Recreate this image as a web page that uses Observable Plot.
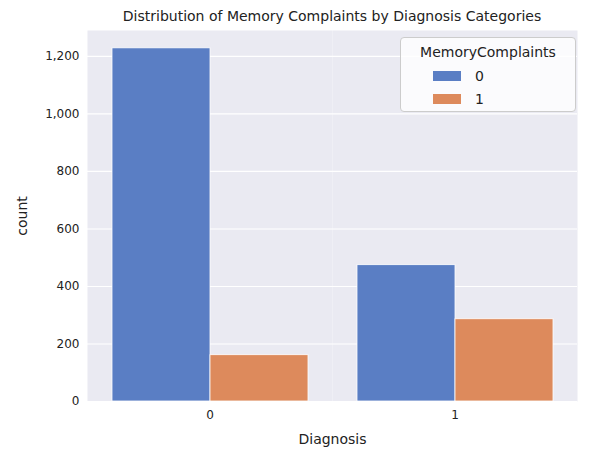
<!DOCTYPE html>
<html><head>
<script src="https://cdn.jsdelivr.net/npm/d3@7"></script>
<script src="https://cdn.jsdelivr.net/npm/@observablehq/plot@0.6"></script>
<style>
body{margin:0;font-family:"DejaVu Sans",sans-serif;}
#wrap{position:relative;width:591px;height:463px;}
#title{position:absolute;left:87px;width:490px;top:8px;text-align:center;font-size:14px;color:#222;}
#legend{position:absolute;left:400px;top:37px;width:176px;height:75px;background:rgba(255,255,255,0.8);border:1px solid #ccc;border-radius:4px;box-sizing:border-box;font-size:14px;color:#222;}
#legend .t{text-align:center;margin-top:6px;}
#legend .r{position:absolute;left:32px;display:flex;align-items:center;}
#legend .s{width:28px;height:10px;margin-right:14px;}
</style></head><body>
<div id="wrap"><div id="chart"></div><div id="title">Distribution of Memory Complaints by Diagnosis Categories</div><div id="legend"></div></div>
<script>
const diagnosis = ["0", "0", "1", "1"]
const complaints = ["0", "1", "0", "1"]
const counts = [1228, 161, 474, 286]
const colors = ["#5a7ec4", "#dd8a5c"]

const data = counts.map((c, i) => ({Diagnosis: diagnosis[i], MemoryComplaints: complaints[i], count: c}))

let chart = Plot.plot({
  width: 591, height: 463,
  marginLeft: 87, marginRight: 14, marginTop: 30, marginBottom: 62,
  style: {fontFamily: "DejaVu Sans", fontSize: "12px", color: "#222", background: "none"},
  fx: {label: "Diagnosis", padding: 0, domain: ["0", "1"], labelAnchor: "center", labelOffset: 42, tickSize: 0, tickPadding: 9},
  x: {axis: null, padding: 0, paddingOuter: 0.25, domain: ["0", "1"]},
  y: {domain: [0, 1290], ticks: [0, 200, 400, 600, 800, 1000, 1200], label: "count", labelArrow: "none", labelAnchor: "center", labelOffset: 70, tickSize: 0, tickPadding: 8},
  color: {domain: ["0", "1"], range: colors},
  marks: [
    Plot.frame({fill: "#eaeaf2", stroke: null}),
    Plot.gridY({stroke: "white", strokeOpacity: 1, strokeWidth: 1.1, ticks: [0, 200, 400, 600, 800, 1000, 1200]}),
    Plot.barY(data, {fx: "Diagnosis", x: "MemoryComplaints", y: "count", fill: "MemoryComplaints", stroke: "white", strokeWidth: 0.8})
  ]
})
d3.select(chart).selectAll("[aria-label='fx-axis label'] text, [aria-label='y-axis label'] text").style("font-size", "14px")
d3.select('#chart').append(() => chart)

const lg = d3.select('#legend')
lg.append('div').attr('class', 't').text('MemoryComplaints')
complaints.slice(0, 2).forEach((k, i) => {
  const r = lg.append('div').attr('class', 'r').style('top', (30 + i * 23) + 'px')
  r.append('div').attr('class', 's').style('background', colors[i])
  r.append('span').text(k)
})
</script></body></html>
